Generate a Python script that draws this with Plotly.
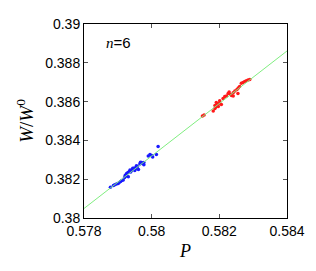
import plotly.graph_objects as go

# Blue cluster
blue_x = [0.57878, 0.57887, 0.57891, 0.57896, 0.57901, 0.57904, 0.57908, 0.57912, 0.57916,
          0.57920, 0.57922, 0.57926, 0.57930, 0.57934, 0.57936, 0.57941, 0.57946, 0.57949,
          0.57952, 0.57955, 0.57958, 0.57961, 0.57950, 0.57965, 0.57970, 0.57973, 0.57977,
          0.57990, 0.57995, 0.58000, 0.58003, 0.58014, 0.58019, 0.57926, 0.57931, 0.57938,
          0.57944, 0.57955, 0.57967, 0.57977]
blue_y = [0.38158, 0.38167, 0.38172, 0.38175, 0.38178, 0.38183, 0.38188, 0.38193, 0.38196,
          0.38209, 0.38221, 0.38229, 0.38234, 0.38240, 0.38248, 0.38245, 0.38253, 0.38258,
          0.38253, 0.38261, 0.38266, 0.38250, 0.38245, 0.38278, 0.38286, 0.38281, 0.38275,
          0.38319, 0.38327, 0.38322, 0.38315, 0.38327, 0.38368, 0.38217, 0.38212, 0.38237,
          0.38256, 0.38269, 0.38288, 0.38286]

# Red cluster
red_x = [0.58150, 0.58155, 0.58182, 0.58187, 0.58190, 0.58193, 0.58196, 0.58201, 0.58197,
         0.58206, 0.58211, 0.58216, 0.58221, 0.58226, 0.58229, 0.58233, 0.58236, 0.58241,
         0.58246, 0.58252, 0.58256, 0.58260, 0.58265, 0.58270, 0.58275, 0.58280, 0.58285,
         0.58290, 0.58191, 0.58201, 0.58187, 0.58241, 0.58255]
red_y = [0.38526, 0.38531, 0.38551, 0.38564, 0.38572, 0.38580, 0.38588, 0.38593, 0.38575,
         0.38585, 0.38616, 0.38626, 0.38629, 0.38642, 0.38649, 0.38637, 0.38632, 0.38645,
         0.38654, 0.38662, 0.38670, 0.38678, 0.38694, 0.38698, 0.38703, 0.38708, 0.38711,
         0.38714, 0.38596, 0.38605, 0.38580, 0.38629, 0.38642]

# Fitted line
fit_x = [0.578, 0.584]
fit_y = [0.38049, 0.38861]

x_ticks = [0.578, 0.580, 0.582, 0.584]
x_tick_labels = ["0.578", "0.58", "0.582", "0.584"]
y_ticks = [0.380, 0.382, 0.384, 0.386, 0.388, 0.390]
y_tick_labels = ["0.38", "0.382", "0.384", "0.386", "0.388", "0.39"]

fig = go.Figure()
fig.add_trace(go.Scatter(x=blue_x, y=blue_y, mode="markers",
                         marker=dict(color="#1a1aff", size=3.5, line=dict(width=0))))
fig.add_trace(go.Scatter(x=red_x, y=red_y, mode="markers",
                         marker=dict(color="#ff1a1a", size=3.5, line=dict(width=0))))
fig.add_trace(go.Scatter(x=fit_x, y=fit_y, mode="lines",
                         line=dict(color="#80ee80", width=1)))

axis_common = dict(showgrid=False, zeroline=False, showline=True, linecolor="black",
                   linewidth=1, mirror="ticks", ticks="inside", ticklen=4,
                   tickcolor="#555555", tickwidth=1, ticklabeloverflow="allow",
                   tickfont=dict(family="Liberation Sans, Arial", size=14, color="black"))

fig.update_layout(
    width=308, height=263,
    margin=dict(l=76, r=29, t=8, b=53),
    paper_bgcolor="white", plot_bgcolor="white",
    showlegend=False,
    xaxis=dict(range=[0.578, 0.584], tickvals=x_ticks, ticktext=x_tick_labels,
               title=dict(text="<i>P</i>", standoff=6,
                          font=dict(family="Liberation Serif, Times New Roman", size=18, color="black")),
               **axis_common),
    yaxis=dict(range=[0.380, 0.390], tickvals=y_ticks, ticktext=y_tick_labels,
               title=dict(text="<i>W</i>/<i>W</i><sup>0</sup>", standoff=6,
                          font=dict(family="Liberation Serif, Times New Roman", size=19, color="black")),
               **axis_common),
    annotations=[dict(xref="paper", yref="paper", x=0.1, y=0.905, xanchor="left", yanchor="middle",
                      showarrow=False,
                      text="<span style='font-family:Liberation Serif'><i>n</i></span>=6",
                      font=dict(family="Liberation Sans, Arial", size=15, color="black"))],
)

fig.write_html("out.html")
